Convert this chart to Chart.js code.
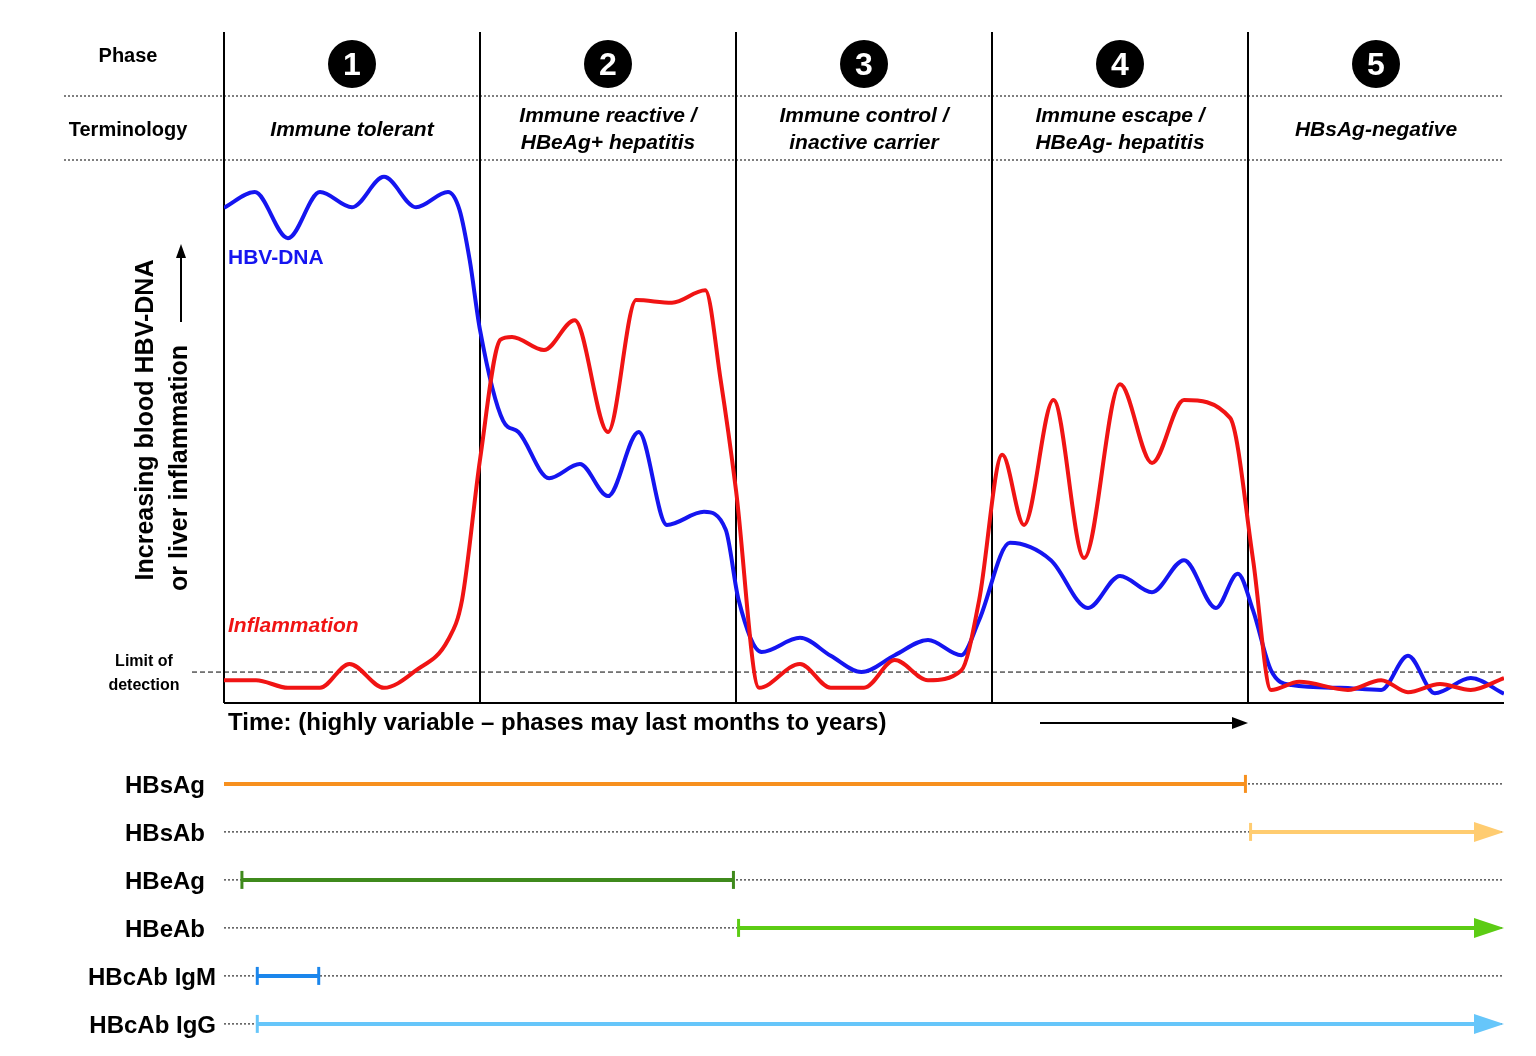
<!DOCTYPE html>
<html>
<head>
<meta charset="utf-8">
<script src="https://cdn.jsdelivr.net/npm/chart.js@4"></script>
<style>body{margin:0;background:#fff}canvas{display:block}</style>
</head>
<body>
<canvas id="c" width="1536" height="1056"></canvas>
<script>
// phases (x in phase units, 0..5), y in % of plot height
const phaseNumbers = ['1', '2', '3', '4', '5'];
const phaseTerms = [
    ['Immune tolerant'],
    ['Immune reactive /', 'HBeAg+ hepatitis'],
    ['Immune control /', 'inactive carrier'],
    ['Immune escape /', 'HBeAg- hepatitis'],
    ['HBsAg-negative'],
];

const dnaX = [0, 0.12, 0.25, 0.375, 0.5, 0.625, 0.75, 0.875, 0.92, 0.96, 1.0, 1.09, 1.15, 1.27, 1.39, 1.5, 1.62, 1.73, 1.875, 1.96, 2.01, 2.1, 2.25, 2.37, 2.49, 2.62, 2.75, 2.88, 2.95, 3.07, 3.23, 3.375, 3.5, 3.625, 3.75, 3.875, 3.96, 4.02, 4.09, 4.17, 4.36, 4.52, 4.625, 4.73, 4.87, 5];
const dnaY = [91.2, 94.1, 85.6, 94.1, 91.3, 96.9, 91.3, 94.1, 90.8, 81.5, 68.7, 52, 49.9, 41.4, 44, 38.1, 49.9, 32.8, 35.2, 31.9, 19, 9.4, 12, 8.7, 5.7, 8.8, 11.6, 8.8, 15.3, 29.5, 26.3, 17.5, 23.4, 20.4, 26.3, 17.5, 23.8, 17, 6, 3.3, 2.8, 2.4, 8.7, 1.8, 4.6, 1.7];

const inflX = [0, 0.125, 0.25, 0.375, 0.49, 0.625, 0.75, 0.875, 0.93, 1.0, 1.08, 1.125, 1.25, 1.37, 1.5, 1.61, 1.75, 1.88, 1.94, 2.0, 2.09, 2.25, 2.37, 2.5, 2.62, 2.75, 2.88, 2.95, 3.04, 3.125, 3.24, 3.36, 3.5, 3.625, 3.75, 3.93, 4.02, 4.09, 4.2, 4.39, 4.52, 4.625, 4.75, 4.87, 5];
const inflY = [4.2, 4.2, 2.8, 2.8, 7.2, 2.8, 6, 11.6, 19, 44.8, 66.9, 67.4, 65, 70.5, 49.9, 74.2, 73.7, 76, 59.5, 39.2, 2.8, 7.2, 2.8, 2.8, 7.9, 4.2, 6, 19, 45.7, 32.8, 55.8, 26.7, 58.7, 44.2, 55.8, 52.5, 26.3, 2.4, 3.9, 2.4, 4.2, 2, 3.5, 2.4, 4.6];

const limitOfDetection = 5.7;

// serology markers: start, end, end style
const markerNames = ['HBsAg', 'HBsAb', 'HBeAg', 'HBeAb', 'HBcAb IgM', 'HBcAb IgG'];
const markerStart = [0, 4.01, 0.07, 2.01, 0.13, 0.13];
const markerEnd = [3.99, 5, 1.99, 5, 0.37, 5];
const markerStartTick = [false, true, true, true, true, true];
const markerEndStyle = ['tick', 'arrow', 'tick', 'arrow', 'tick', 'arrow'];
const markerColors = ['#f7901e', '#ffcc70', '#3f8a1c', '#5ccc14', '#1b86ec', '#66c6fa'];

const ROW0 = -14.9, ROW_STEP = -8.84;
const rowValue = (i) => ROW0 + i * ROW_STEP;

const markerSets = markerNames.map((name, i) => ({
    label: name,
    data: [{ x: markerStart[i], y: rowValue(i) }, { x: markerEnd[i] - (markerEndStyle[i] === 'arrow' ? 0.1 : 0), y: rowValue(i) }],
    borderColor: markerColors[i], borderWidth: 4, pointRadius: 0, clip: false,
}));

const FONT = '"Liberation Sans", Arial, sans-serif';

const decor = {
    id: 'decor',
    beforeDatasetsDraw(chart) {
        const { ctx, scales: { x, y } } = chart;
        const px = (v) => x.getPixelForValue(v);
        const py = (v) => y.getPixelForValue(v);
        ctx.save();
        ctx.strokeStyle = '#000';
        ctx.lineWidth = 2;
        for (let i = 0; i < 5; i++) {
            ctx.beginPath(); ctx.moveTo(px(i), 32); ctx.lineTo(px(i), py(0)); ctx.stroke();
        }
        ctx.beginPath(); ctx.moveTo(px(0), py(0)); ctx.lineTo(px(5), py(0)); ctx.stroke();
        // dotted header lines
        ctx.lineWidth = 1;
        ctx.setLineDash([2, 2]);
        [96, 160].forEach((yy) => { ctx.beginPath(); ctx.moveTo(64, yy); ctx.lineTo(px(5), yy); ctx.stroke(); });
        markerNames.forEach((_, i) => {
            const yy = py(rowValue(i));
            ctx.beginPath(); ctx.moveTo(px(0), yy); ctx.lineTo(px(5), yy); ctx.stroke();
        });
        ctx.setLineDash([5, 3]);
        ctx.beginPath(); ctx.moveTo(192, py(limitOfDetection)); ctx.lineTo(px(5), py(limitOfDetection)); ctx.stroke();
        ctx.setLineDash([]);

        ctx.fillStyle = '#000';
        ctx.textAlign = 'center';
        ctx.textBaseline = 'middle';
        ctx.font = `bold 20px ${FONT}`;
        ctx.fillText('Phase', 128, 56);
        ctx.fillText('Terminology', 128, 130);
        for (let i = 0; i < 5; i++) {
            const cx = px(i + 0.5);
            ctx.fillStyle = '#000';
            ctx.beginPath(); ctx.arc(cx, 64, 24, 0, Math.PI * 2); ctx.fill();
            ctx.fillStyle = '#fff';
            ctx.font = `bold 32px ${FONT}`;
            ctx.fillText(phaseNumbers[i], cx, 66);
            ctx.fillStyle = '#000';
            ctx.font = `italic bold 21px ${FONT}`;
            const lines = phaseTerms[i];
            if (lines.length === 1) ctx.fillText(lines[0], cx, 130);
            else { ctx.fillText(lines[0], cx, 116); ctx.fillText(lines[1], cx, 143); }
        }
        ctx.font = `bold 16px ${FONT}`;
        ctx.fillText('Limit of', 144, 662);
        ctx.fillText('detection', 144, 686);

        ctx.save();
        ctx.translate(146, 420); ctx.rotate(-Math.PI / 2);
        ctx.font = `bold 25px ${FONT}`;
        ctx.fillText('Increasing blood HBV-DNA', 0, 0);
        ctx.restore();
        ctx.save();
        ctx.translate(180, 468); ctx.rotate(-Math.PI / 2);
        ctx.font = `bold 25px ${FONT}`;
        ctx.fillText('or liver inflammation', 0, 0);
        ctx.restore();
        ctx.lineWidth = 2;
        ctx.beginPath(); ctx.moveTo(181, 322); ctx.lineTo(181, 252); ctx.stroke();
        ctx.beginPath(); ctx.moveTo(181, 244); ctx.lineTo(176, 258); ctx.lineTo(186, 258); ctx.closePath(); ctx.fill();

        ctx.textAlign = 'left';
        ctx.font = `bold 21px ${FONT}`;
        ctx.fillStyle = '#1515f0';
        ctx.fillText('HBV-DNA', 228, 258);
        ctx.font = `italic bold 21px ${FONT}`;
        ctx.fillStyle = '#f01414';
        ctx.fillText('Inflammation', 228, 626);
        ctx.fillStyle = '#000';
        ctx.font = `bold 24px ${FONT}`;
        ctx.fillText('Time: (highly variable \u2013 phases may last months to years)', 228, 723);
        ctx.beginPath(); ctx.moveTo(1040, 723); ctx.lineTo(1236, 723); ctx.stroke();
        ctx.beginPath(); ctx.moveTo(1248, 723); ctx.lineTo(1232, 717); ctx.lineTo(1232, 729); ctx.closePath(); ctx.fill();

        ctx.textAlign = 'right';
        ctx.font = `bold 24px ${FONT}`;
        markerNames.forEach((name, i) => {
            ctx.fillText(name, name.startsWith('HBcAb') ? 216 : 205, py(rowValue(i)) + 2);
        });
        ctx.restore();
    },
    afterDatasetsDraw(chart) {
        const { ctx, scales: { x, y } } = chart;
        ctx.save();
        markerNames.forEach((_, i) => {
            const yy = y.getPixelForValue(rowValue(i));
            ctx.strokeStyle = markerColors[i];
            ctx.fillStyle = markerColors[i];
            ctx.lineWidth = 3;
            const tick = (v) => { const xx = x.getPixelForValue(v); ctx.beginPath(); ctx.moveTo(xx, yy - 9); ctx.lineTo(xx, yy + 9); ctx.stroke(); };
            if (markerStartTick[i]) tick(markerStart[i]);
            if (markerEndStyle[i] === 'tick') tick(markerEnd[i]);
            else {
                const xe = x.getPixelForValue(markerEnd[i]);
                ctx.beginPath(); ctx.moveTo(xe, yy); ctx.lineTo(xe - 30, yy - 10); ctx.lineTo(xe - 30, yy + 10); ctx.closePath(); ctx.fill();
            }
        });
        ctx.restore();
    },
};

new Chart(document.getElementById('c'), {
    type: 'line',
    data: {
        datasets: [
            { label: 'Inflammation', data: inflX.map((v, i) => ({ x: v, y: inflY[i] })), borderColor: '#f01414', borderWidth: 4, pointRadius: 0, cubicInterpolationMode: 'monotone' },
            { label: 'HBV-DNA', data: dnaX.map((v, i) => ({ x: v, y: dnaY[i] })), borderColor: '#1515f0', borderWidth: 4, pointRadius: 0, cubicInterpolationMode: 'monotone' },
            ...markerSets,
        ],
    },
    options: {
        responsive: false,
        animation: false,
        layout: { padding: { left: 224, right: 32, top: 160, bottom: 353 } },
        scales: {
            x: { type: 'linear', min: 0, max: 5, display: false },
            y: { min: 0, max: 100, display: false },
        },
        plugins: { legend: { display: false }, tooltip: { enabled: false } },
    },
    plugins: [decor],
});
</script>
</body>
</html>
